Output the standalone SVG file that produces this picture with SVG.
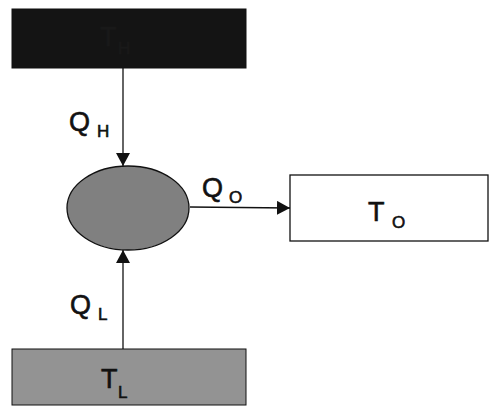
<svg xmlns="http://www.w3.org/2000/svg" width="490" height="406" viewBox="0 0 490 406">
<style>
.ln{stroke:#111;stroke-width:1.3;fill:none}
.lbl{font-family:"Liberation Sans",Arial,sans-serif;fill:#111;stroke:#111;stroke-width:0.6}
.big{font-size:27px}
.sub{font-size:17px}
.hid{fill:#191919;stroke:#191919}
</style>
<defs>
<marker id="ah" markerWidth="14" markerHeight="14" refX="13" refY="7" orient="auto" markerUnits="userSpaceOnUse">
<path d="M0,0 L13,7 L0,14 Z" fill="#111"/>
</marker>
</defs>
<g id="connectors">
<line class="ln" x1="123" y1="68" x2="123" y2="166" marker-end="url(#ah)"/>
<line class="ln" x1="123" y1="349" x2="123" y2="250" marker-end="url(#ah)"/>
<line class="ln" x1="190" y1="207" x2="290" y2="208" marker-end="url(#ah)"/>
</g>
<g id="hot">
<rect x="12" y="9" width="234" height="59" fill="#141414" stroke="#111" stroke-width="1"/>
<text class="lbl big hid" x="100" y="46">T</text>
<text class="lbl sub hid" x="118" y="54">H</text>
</g>
<g id="engine">
<ellipse cx="128" cy="208" rx="61" ry="42" fill="#808080" stroke="#111" stroke-width="1.3"/>
</g>
<g id="cold">
<rect x="12" y="349" width="234" height="56" fill="#939393" stroke="#111" stroke-width="1"/>
<text class="lbl big" x="101" y="388">T</text>
<text class="lbl sub" x="118" y="398">L</text>
</g>
<g id="ambient">
<rect x="290" y="175" width="198" height="66" fill="#fff" stroke="#111" stroke-width="1.3"/>
<text class="lbl big" x="368" y="221">T</text>
<text class="lbl sub" x="392" y="228">O</text>
</g>
<g id="labels">
<text class="lbl big" x="69" y="131">Q</text>
<text class="lbl sub" x="97" y="137">H</text>
<text class="lbl big" x="70" y="314">Q</text>
<text class="lbl sub" x="98" y="320">L</text>
<text class="lbl big" x="202" y="197">Q</text>
<text class="lbl sub" x="229" y="203">O</text>
</g>
</svg>
